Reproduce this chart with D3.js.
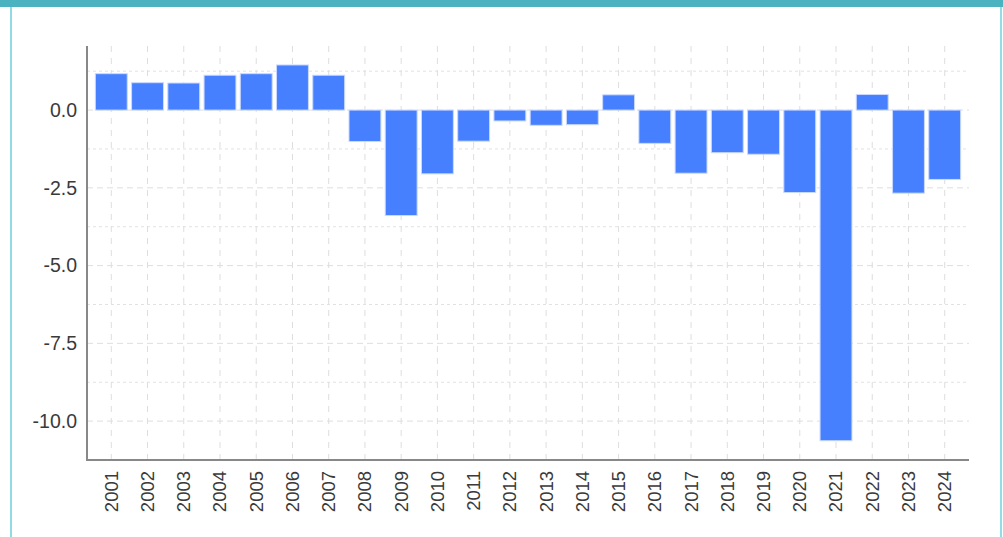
<!DOCTYPE html>
<html>
<head>
<meta charset="utf-8">
<script src="https://cdn.jsdelivr.net/npm/d3@7"></script>
<style>
  body { margin: 0; background: #fff; font-family: "Liberation Sans", Arial, sans-serif; }
</style>
</head>
<body>
<div id="chart"></div>
<script>
// Data
var years = ["2001","2002","2003","2004","2005","2006","2007","2008","2009","2010","2011","2012",
	"2013","2014","2015","2016","2017","2018","2019","2020","2021","2022","2023","2024"];
var values = [1.17, 0.88, 0.87, 1.12, 1.17, 1.45, 1.12, -1.01, -3.39, -2.05, -1.0, -0.35,
	-0.49, -0.47, 0.49, -1.07, -2.03, -1.37, -1.42, -2.65, -10.63, 0.5, -2.67, -2.23];
var yTicks = [0, -2.5, -5, -7.5, -10];
var yMinor = [1.25, -1.25, -3.75, -6.25, -8.75];

var width = 1003,
	height = 537,
	axisLeft = 87,
	axisRight = 969,
	plotTop = 46,
	plotBottom = 460;

var svg = d3.select("#chart").append("svg")
	.attr("width", width)
	.attr("height", height);

// frame
svg.append("rect").attr("x", 11).attr("y", 0).attr("width", 990).attr("height", 560)
	.attr("fill", "none").attr("stroke", "#6fd0dc").attr("stroke-width", 1.5);
svg.append("rect").attr("x", 0).attr("y", 0).attr("width", width).attr("height", 7)
	.attr("fill", "#4ab3bf");

var x = d3.scaleBand()
	.domain(years)
	.range([91, 965])
	.padding(0.12);

var y = d3.scaleLinear()
	.domain([-11.25, 2.06])
	.range([plotBottom, plotTop]);

var grid = svg.append("g").attr("class", "grid");

// minor horizontal (dotted)
grid.selectAll("line.minor")
	.data(yMinor)
	.enter().append("line")
	.attr("x1", axisLeft).attr("x2", axisRight)
	.attr("y1", function(d) { return y(d); })
	.attr("y2", function(d) { return y(d); })
	.attr("stroke", "#e2e2e2")
	.attr("stroke-dasharray", "3,3");

// major horizontal (dashed)
grid.selectAll("line.major")
	.data(yTicks)
	.enter().append("line")
	.attr("x1", axisLeft).attr("x2", axisRight)
	.attr("y1", function(d) { return y(d); })
	.attr("y2", function(d) { return y(d); })
	.attr("stroke", "#dedede")
	.attr("stroke-dasharray", "6,4");

// vertical (dashed) at each band
grid.selectAll("line.vert")
	.data(years)
	.enter().append("line")
	.attr("x1", function(d) { return x(d) + x.bandwidth() / 2; })
	.attr("x2", function(d) { return x(d) + x.bandwidth() / 2; })
	.attr("y1", plotTop).attr("y2", plotBottom)
	.attr("stroke", "#dedede")
	.attr("stroke-dasharray", "6,6");

// bars
svg.append("g")
	.selectAll("rect")
	.data(values)
	.enter().append("rect")
	.attr("x", function(d, i) { return x(years[i]); })
	.attr("width", x.bandwidth())
	.attr("y", function(d) { return y(Math.max(0, d)); })
	.attr("height", function(d) { return Math.abs(y(d) - y(0)); })
	.attr("fill", "#4680ff")
	.attr("stroke", "#c9d8ff")
	.attr("stroke-width", 1);

// y axis
var fmt = function(d) { return d3.format(".1f")(d).replace("\u2212", "-"); };
var yAxis = svg.append("g")
	.attr("transform", "translate(" + axisLeft + ",0)")
	.call(d3.axisLeft(y).tickValues(yTicks).tickFormat(fmt).tickSize(0).tickPadding(10));
yAxis.select(".domain").remove();
yAxis.selectAll("text")
	.attr("font-family", "Liberation Sans, Arial, sans-serif")
	.attr("font-size", 19.5)
	.attr("fill", "#3a3a3a");
svg.append("line")
	.attr("x1", axisLeft).attr("x2", axisLeft)
	.attr("y1", plotTop).attr("y2", plotBottom + 1)
	.attr("stroke", "#888").attr("stroke-width", 2);

// x axis
var xAxis = svg.append("g")
	.attr("transform", "translate(0," + plotBottom + ")")
	.call(d3.axisBottom(x).tickSize(0).tickPadding(0));
xAxis.select(".domain").remove();
xAxis.selectAll("text")
	.attr("font-family", "Liberation Sans, Arial, sans-serif")
	.attr("font-size", 18.5)
	.attr("fill", "#3a3a3a")
	.attr("text-anchor", "end")
	.attr("dy", "0.35em")
	.attr("transform", "translate(0,11) rotate(-90)")
	.attr("x", 0).attr("y", 0);
svg.append("line")
	.attr("x1", axisLeft).attr("x2", axisRight)
	.attr("y1", plotBottom).attr("y2", plotBottom)
	.attr("stroke", "#888").attr("stroke-width", 2);
</script>
</body>
</html>
